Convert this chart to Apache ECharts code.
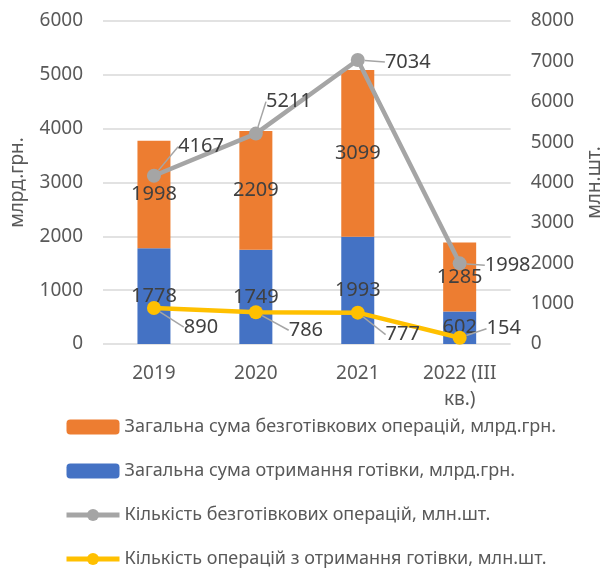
<!DOCTYPE html>
<html>
<head>
<meta charset="utf-8" />
<title>Операції</title>
<script src="https://cdn.jsdelivr.net/npm/echarts@6/dist/echarts.min.js"></script>
<style>
html, body { margin: 0; padding: 0; background: #fff; }
#chart { width: 612px; height: 577px; }
</style>
</head>
<body>
<div id="chart"></div>
<script type="text/javascript">
// категорії
var years = ['2019', '2020', '2021', '2022 (III\nкв.)'];
// млрд.грн.
var cashlessSum = [1998, 2209, 3099, 1285];
var cashSum = [1778, 1749, 1993, 602];
// млн.шт.
var cashlessCount = [4167, 5211, 7034, 1998];
var cashCount = [890, 786, 777, 154];
// осі
var leftTicks = [0, 6000, 1000];
var rightTicks = [0, 8000, 1000];

var names = [
	'Загальна сума безготівкових операцій, млрд.грн.',
	'Загальна сума отримання готівки, млрд.грн.',
	'Кількість безготівкових операцій, млн.шт.',
	'Кількість операцій з отримання готівки, млн.шт.'
];

// зсув підписів ліній (як в Excel)
var greyShift = [[47, -29], [33, -32], [50, 2], [48, 2]];
var yellowShift = [[47, 19], [50, 18], [45, 22], [44, -9]];

var font = 'Noto Sans';
var txt = '#404040';

function plain(v) { return String(v); }

var myChart = echarts.init(document.getElementById('chart'));
var option = {
	animation: false,
	textStyle: { fontFamily: font },
	grid: { left: 100, right: 92, top: 21, bottom: 233 },
	legend: {
		orient: 'vertical',
		left: 59,
		top: 413,
		itemWidth: 53,
		itemHeight: 15,
		itemGap: 26,
		lineStyle: { width: 5 },
		textStyle: { fontSize: 18, color: '#595959', fontFamily: font },
		data: names
	},
	xAxis: [{
		type: 'category',
		data: years,
		axisLine: { show: false },
		axisTick: { show: false },
		axisLabel: { fontSize: 19, color: '#595959', margin: 17, lineHeight: 26 }
	}],
	yAxis: [{
		type: 'value',
		min: leftTicks[0], max: leftTicks[1], interval: leftTicks[2],
		name: 'млрд.грн.',
		nameLocation: 'middle',
		nameGap: 76,
		nameTextStyle: { fontSize: 19, color: '#595959' },
		axisLabel: { fontSize: 19, color: '#595959', margin: 20, formatter: plain },
		splitLine: { lineStyle: { color: '#D9D9D9', width: 1.5 } }
	}, {
		type: 'value',
		min: rightTicks[0], max: rightTicks[1], interval: rightTicks[2],
		name: 'млн.шт.',
		nameLocation: 'middle',
		nameGap: 72,
		nameRotate: 90,
		nameTextStyle: { fontSize: 19, color: '#595959' },
		axisLabel: { fontSize: 19, color: '#595959', margin: 20, formatter: plain },
		splitLine: { show: false }
	}],
	series: [{
		name: names[1],
		type: 'bar',
		stack: 'sum',
		barWidth: 33,
		data: cashSum,
		itemStyle: { color: '#4472C4' },
		label: { show: true, position: 'inside', fontSize: 20, color: txt }
	}, {
		name: names[0],
		type: 'bar',
		stack: 'sum',
		barWidth: 33,
		data: cashlessSum,
		itemStyle: { color: '#ED7D31' },
		label: { show: true, position: 'inside', fontSize: 20, color: txt }
	}, {
		name: names[2],
		type: 'line',
		yAxisIndex: 1,
		data: cashlessCount,
		symbol: 'circle',
		symbolSize: 14,
		lineStyle: { color: '#A5A5A5', width: 4.5 },
		itemStyle: { color: '#A5A5A5' },
		z: 5,
		label: { show: true, position: 'inside', fontSize: 20, color: txt },
		labelLine: { show: true, lineStyle: { color: '#A5A5A5', width: 1.5 } },
		labelLayout: function (p) {
			return { dx: greyShift[p.dataIndex][0], dy: greyShift[p.dataIndex][1] };
		}
	}, {
		name: names[3],
		type: 'line',
		yAxisIndex: 1,
		data: cashCount,
		symbol: 'circle',
		symbolSize: 14,
		lineStyle: { color: '#FFC000', width: 4.5 },
		itemStyle: { color: '#FFC000' },
		z: 5,
		label: { show: true, position: 'inside', fontSize: 20, color: txt },
		labelLine: { show: true, lineStyle: { color: '#A5A5A5', width: 1.5 } },
		labelLayout: function (p) {
			return { dx: yellowShift[p.dataIndex][0], dy: yellowShift[p.dataIndex][1] };
		}
	}]
};
myChart.setOption(option);
</script>
</body>
</html>
